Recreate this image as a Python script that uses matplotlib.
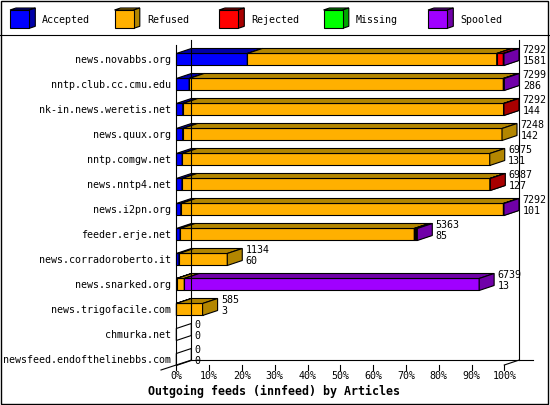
import matplotlib

matplotlib.use("Agg")
import matplotlib.pyplot as plt
from matplotlib.patches import Polygon, Rectangle
from matplotlib.transforms import Affine2D, ScaledTranslation, blended_transform_factory

# feeds, top to bottom
feeds = [
    "news.novabbs.org", "nntp.club.cc.cmu.edu", "nk-in.news.weretis.net",
    "news.quux.org", "nntp.comgw.net", "news.nntp4.net", "news.i2pn.org",
    "feeder.erje.net", "news.corradoroberto.it", "news.snarked.org",
    "news.trigofacile.com", "chmurka.net", "newsfeed.endofthelinebbs.com",
]
offered = [7292, 7299, 7292, 7248, 6975, 6987, 7292, 5363, 1134, 6739, 585, 0, 0]
accepted = [1581, 286, 144, 142, 131, 127, 101, 85, 60, 13, 3, 0, 0]
refused = [5549, 6991, 7138, 7106, 6844, 6852, 7179, 5211, 1074, 165, 582, 0, 0]
rejected = [147, 0, 10, 0, 0, 8, 0, 29, 0, 0, 0, 0, 0]
missing = [0, 0, 0, 0, 0, 0, 0, 0, 0, 0, 0, 0, 0]
spooled = [15, 22, 0, 0, 0, 0, 12, 38, 0, 6561, 0, 0, 0]

series_names = ["Accepted", "Refused", "Rejected", "Missing", "Spooled"]
front_colors = ["#0000ff", "#ffb000", "#ff0000", "#00ff00", "#a000ff"]
shade_colors = ["#0000a8", "#b38600", "#a80000", "#00a800", "#7000a8"]
pct_ticks = [0, 10, 20, 30, 40, 50, 60, 70, 80, 90, 100]

W, H = 550, 405
XMAX = max(offered)
# pixel geometry of the plot
X0_PX, X100_PX = 176.3, 504.3
ROW0_PX, ROW_PX = 59.5, 25.0
DX_PX, DY_PX = 15.0, 5.0

fig = plt.figure(figsize=(W / 100, H / 100), dpi=100)
ax = fig.add_axes([0, 0, 1, 1])
ax.axis("off")
scale = XMAX / (X100_PX - X0_PX)
ax.set_xlim(-X0_PX * scale, (W - X0_PX) * scale)
ax.set_ylim((H - ROW0_PX) / ROW_PX, -ROW0_PX / ROW_PX)

px = Affine2D().scale(1 / W, -1 / H).translate(0, 1) + fig.transFigure
xpx = blended_transform_factory(ax.transData, px)

dx = DX_PX * scale
dy = -DY_PX / ROW_PX
h = 6.0 / ROW_PX
FONT = "DejaVu Sans Mono"
FS = 7.2

series = [accepted, refused, rejected, missing, spooled]
for i, name in enumerate(feeds):
    start = 0
    for k, vals in enumerate(series):
        v = vals[i]
        if v == 0:
            continue
        x0, x1 = start, start + v
        top, bot = i - h, i + h
        ec = dict(edgecolor="black", lw=0.8, joinstyle="miter")
        ax.add_patch(Polygon([(x0, top), (x1, top), (x1, bot), (x0, bot)],
                             facecolor=front_colors[k], **ec))
        ax.add_patch(Polygon([(x0, top), (x0 + dx, top + dy), (x1 + dx, top + dy), (x1, top)],
                             facecolor=shade_colors[k], **ec))
        ax.add_patch(Polygon([(x1, top), (x1 + dx, top + dy), (x1 + dx, bot + dy), (x1, bot)],
                             facecolor=shade_colors[k], **ec))
        start = x1
    if start == 0:
        ax.add_patch(Polygon([(0, i - h), (dx, i - h + dy), (dx, i + h + dy), (0, i + h)],
                             facecolor="none", edgecolor="black", lw=0.8))
    end = max(start, 0) + dx
    ax.text(end, i, str(offered[i]), fontsize=FS, family=FONT, ha="left", va="center",
            transform=ax.transData + ScaledTranslation(0.035, 0.092, fig.dpi_scale_trans))
    ax.text(end, i, str(accepted[i]), fontsize=FS, family=FONT, ha="left", va="center",
            transform=ax.transData + ScaledTranslation(0.035, -0.015, fig.dpi_scale_trans))
    ax.text(0, i, name, fontsize=FS, family=FONT, ha="right", va="center",
            transform=ax.transData + ScaledTranslation(-0.05, -0.005, fig.dpi_scale_trans))

# frame of the 3d plot
line = dict(color="black", lw=0.8)
ax.plot([0, 0], [45, 365], transform=xpx, **line)
ax.plot([dx, dx], [40, 360], transform=xpx, **line)
ax.plot([XMAX + dx, XMAX + dx], [40, 360], transform=xpx, **line)
ax.plot([191.5, 533], [360, 360], transform=px, **line)
ax.plot([161, 191.5], [370, 360], transform=px, **line)
ax.plot([X100_PX, X100_PX + DX_PX], [365, 360], transform=px, **line)

for p in pct_ticks:
    xv = XMAX * p / 100
    ax.plot([xv, xv], [365, 370], transform=xpx, **line)
    ax.text(xv, 376, f"{p}%", fontsize=FS, family=FONT, ha="center", va="center",
            transform=xpx)

ax.text(W / 2 - 1, 391.5, "Outgoing feeds (innfeed) by Articles", fontsize=8.4,
        family=FONT, weight="bold", ha="center", va="center", transform=px)

# legend
for k, name in enumerate(series_names):
    lx = 10 + 104.5 * k
    ax.add_patch(Polygon([(lx, 10), (lx + 6, 8), (lx + 25.3, 8), (lx + 19.3, 10)],
                         facecolor=shade_colors[k], edgecolor="black", lw=0.8, transform=px))
    ax.add_patch(Polygon([(lx + 19.3, 10), (lx + 25.3, 8), (lx + 25.3, 26.3), (lx + 19.3, 28.3)],
                         facecolor=shade_colors[k], edgecolor="black", lw=0.8, transform=px))
    ax.add_patch(Rectangle((lx, 10), 19.3, 18.3, facecolor=front_colors[k],
                           edgecolor="black", lw=0.8, transform=px))
    ax.text(lx + 32.3, 20, name, fontsize=FS, family=FONT, ha="left", va="center",
            transform=px)

ax.plot([0, W], [35, 35], transform=px, **line)
ax.add_patch(Rectangle((0.5, 0.5), 547.5, 403, facecolor="none", edgecolor="black",
                       lw=1.0, transform=px))

fig.savefig("out.png", dpi=100)
